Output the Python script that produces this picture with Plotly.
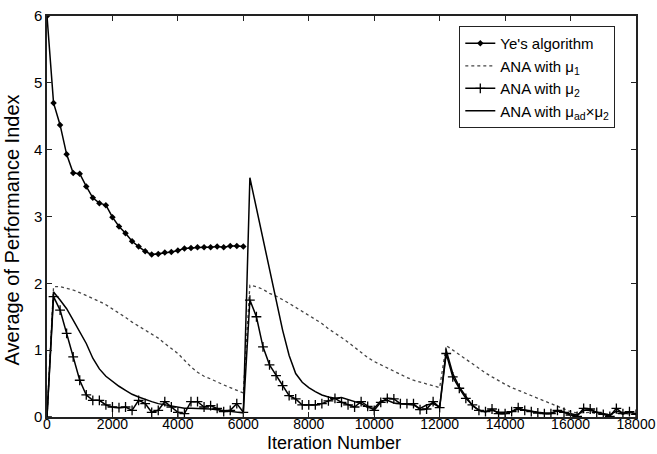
import plotly.graph_objects as go

step = 200
x_ye = list(range(0, 6001, step))
x_full = list(range(0, 18001, step))

ye = [6.0, 4.70, 4.37, 3.93, 3.65, 3.64, 3.45, 3.28, 3.20, 3.17, 2.99, 2.85, 2.75, 2.63,
      2.55, 2.48, 2.43, 2.44, 2.46, 2.47, 2.49, 2.52, 2.53, 2.54, 2.54, 2.54, 2.55, 2.54,
      2.56, 2.56, 2.55]

mu1 = [0.0, 1.95, 1.95, 1.93, 1.90, 1.86, 1.82, 1.77, 1.73, 1.68, 1.62, 1.56, 1.49, 1.42,
       1.36, 1.30, 1.24, 1.18, 1.10, 1.02, 0.95, 0.85, 0.75, 0.67, 0.61, 0.57, 0.52, 0.48,
       0.44, 0.40, 0.36,
       1.97, 1.95, 1.91, 1.85, 1.81, 1.76, 1.70, 1.64, 1.58, 1.53, 1.47, 1.40, 1.32, 1.26,
       1.19, 1.12, 1.04, 0.96, 0.89, 0.83, 0.78, 0.73, 0.68, 0.63, 0.59, 0.55, 0.52, 0.49,
       0.46, 0.44,
       1.07, 1.00, 0.93, 0.86, 0.79, 0.72, 0.66, 0.60, 0.54, 0.49, 0.44, 0.40, 0.36, 0.32,
       0.28, 0.24, 0.21, 0.17, 0.13, 0.08, 0.06, 0.07, 0.07, 0.05, 0.04, 0.03, 0.06, 0.04,
       0.05, 0.04]

mu2 = [0.0, 1.80, 1.60, 1.25, 0.90, 0.55, 0.33, 0.25, 0.25, 0.18, 0.15, 0.14, 0.15, 0.10,
       0.25, 0.20, 0.07, 0.10, 0.23, 0.15, 0.07, 0.05, 0.23, 0.23, 0.15, 0.17, 0.13, 0.08,
       0.10, 0.20, 0.07,
       1.75, 1.50, 1.05, 0.78, 0.62, 0.47, 0.32, 0.27, 0.18, 0.18, 0.18, 0.20, 0.24, 0.28,
       0.22, 0.18, 0.15, 0.23, 0.16, 0.10, 0.22, 0.28, 0.27, 0.20, 0.20, 0.20, 0.11, 0.12,
       0.23, 0.14,
       0.95, 0.60, 0.43, 0.28, 0.18, 0.10, 0.08, 0.12, 0.05, 0.05, 0.08, 0.14, 0.10, 0.08,
       0.06, 0.05, 0.05, 0.10, 0.07, 0.03, 0.01, 0.13, 0.12, 0.07, 0.04, 0.01, 0.13, 0.05,
       0.08, 0.04]

mu_ad = [0.0, 1.87, 1.75, 1.62, 1.45, 1.27, 1.10, 0.88, 0.72, 0.61, 0.53, 0.46, 0.40, 0.34,
         0.30, 0.26, 0.23, 0.20, 0.18, 0.16, 0.14, 0.13, 0.13, 0.13, 0.13, 0.12, 0.11, 0.10,
         0.09, 0.08, 0.06,
         3.58, 3.12, 2.65, 2.18, 1.75, 1.30, 0.92, 0.65, 0.52, 0.44, 0.38, 0.33, 0.30, 0.28,
         0.29, 0.26, 0.22, 0.20, 0.14, 0.13, 0.24, 0.25, 0.21, 0.20, 0.19, 0.18, 0.13, 0.18,
         0.20, 0.15,
         1.00, 0.65, 0.45, 0.30, 0.17, 0.10, 0.08, 0.10, 0.07, 0.07, 0.08, 0.12, 0.10, 0.08,
         0.07, 0.06, 0.06, 0.09, 0.07, 0.04, 0.03, 0.10, 0.10, 0.07, 0.05, 0.03, 0.09, 0.06,
         0.07, 0.05]

x_ticks = list(range(0, 18001, 2000))
y_ticks = [0, 1, 2, 3, 4, 5, 6]
x_title = "Iteration Number"
y_title = "Average of Performance Index"

fig = go.Figure()
fig.add_trace(go.Scatter(x=x_ye, y=ye, mode="lines+markers", name="Ye's algorithm",
                         line=dict(color="black", width=1.5),
                         marker=dict(symbol="diamond", size=5, color="black")))
fig.add_trace(go.Scatter(x=x_full, y=mu1, mode="lines", name="ANA with μ<sub>1</sub>",
                         line=dict(color="#444444", width=1.3, dash="dot")))
fig.add_trace(go.Scatter(x=x_full, y=mu2, mode="lines+markers", name="ANA with μ<sub>2</sub>",
                         line=dict(color="black", width=1.5),
                         marker=dict(symbol="cross-thin-open", size=7,
                                     line=dict(color="black", width=1.3))))
fig.add_trace(go.Scatter(x=x_full, y=mu_ad, mode="lines",
                         name="ANA with μ<sub>ad</sub>×μ<sub>2</sub>",
                         line=dict(color="black", width=1.5)))

axis_common = dict(showline=True, linecolor="#222222", linewidth=1.5, mirror="ticks",
                   ticks="inside", ticklen=5, tickcolor="#222222", showgrid=False,
                   zeroline=False, automargin=False)

fig.update_xaxes(range=[0, 18000], tickvals=x_ticks,
                 ticktext=[str(v) for v in x_ticks], ticklabelstandoff=-7,
                 tickfont=dict(size=14, color="black"), **axis_common)
fig.update_yaxes(range=[0, 6], tickvals=y_ticks,
                 ticktext=[str(v) for v in y_ticks],
                 tickfont=dict(size=15, color="black"), **axis_common)

fig.add_annotation(text=x_title, xref="paper", yref="paper", x=0.487, y=-0.066,
                   xanchor="center", yanchor="middle", showarrow=False,
                   font=dict(size=18, color="black"))
fig.add_annotation(text=y_title, xref="paper", yref="paper", x=-0.059, y=0.466,
                   xanchor="center", yanchor="middle", showarrow=False, textangle=-90,
                   font=dict(size=20, color="black"))

fig.update_layout(
    width=657, height=454,
    margin=dict(l=47, r=21, t=16, b=37),
    paper_bgcolor="white", plot_bgcolor="white",
    font=dict(family="Liberation Sans, Arial, sans-serif", color="black"),
    showlegend=True,
    legend=dict(x=0.70, y=0.975, xanchor="left", yanchor="top",
                bgcolor="white", bordercolor="#222222", borderwidth=1,
                font=dict(size=15, color="black"), tracegroupgap=0,
                itemwidth=30),
)

fig.write_html("out.html")
